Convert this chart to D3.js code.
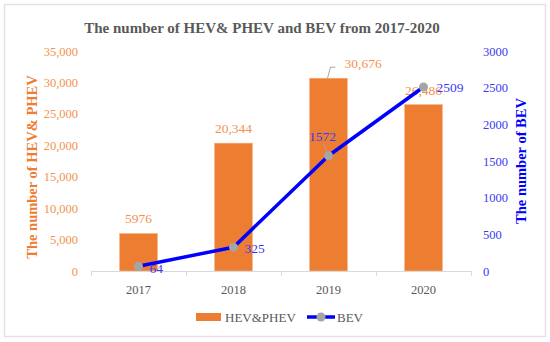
<!DOCTYPE html>
<html>
<head>
<meta charset="utf-8">
<script src="https://cdn.jsdelivr.net/npm/d3@7"></script>
<style>
  body { margin: 0; background: #fff; }
  svg text { font-family: "Liberation Serif", "DejaVu Serif", serif; }
</style>
</head>
<body>
<div class="svg-container"></div>
<script>
// data
const years = ["2017", "2018", "2019", "2020"];
const hevPhev = [5976, 20344, 30676, 26486];
const bev = [64, 325, 1572, 2509];
const leftTicks = [0, 5000, 10000, 15000, 20000, 25000, 30000, 35000];
const rightTicks = [0, 500, 1000, 1500, 2000, 2500, 3000];

const w = 550;
const h = 342;
const margin = {top: 51, right: 80, bottom: 71, left: 91};

const orange = "#ED7D31";
const orangeText = "#F4924F";
const blue = "#0000FF";
const blueText = "#3A3AF5";
const grey = "#595959";

const svg = d3.select(".svg-container")
  .append("svg")
  .attr("width", w)
  .attr("height", h);

// frame
svg.append("rect")
  .attr("x", 4.5).attr("y", 4.5)
  .attr("width", 541).attr("height", 332)
  .style("fill", "#fff").style("stroke", "#E3E3E3").style("stroke-width", 1.5);

const x = d3.scaleBand()
  .domain(years)
  .range([margin.left, w - margin.right + 1])
  .paddingInner(0.6)
  .paddingOuter(0.3);

const yL = d3.scaleLinear().domain([0, 35000]).range([h - margin.bottom, margin.top]);
const yR = d3.scaleLinear().domain([0, 3000]).range([h - margin.bottom, margin.top]);

const fmtL = d3.format(",");
const barFmt = d => d < 10000 ? String(d) : fmtL(d);

// title
svg.append("text")
  .attr("x", 262).attr("y", 33)
  .attr("text-anchor", "middle")
  .style("font-size", "15px").style("font-weight", "bold")
  .style("fill", grey)
  .text("The number of HEV& PHEV and BEV from 2017-2020");

// left axis labels
svg.append("g").selectAll("text").data(leftTicks).enter()
  .append("text")
  .attr("x", 78)
  .attr("y", d => yL(d) + 4.5)
  .attr("text-anchor", "end")
  .style("font-size", "12.5px")
  .style("fill", orangeText)
  .text(d => fmtL(d));

// right axis labels
svg.append("g").selectAll("text").data(rightTicks).enter()
  .append("text")
  .attr("x", 483)
  .attr("y", d => yR(d) + 4.5)
  .attr("text-anchor", "start")
  .style("font-size", "12.5px")
  .style("fill", blueText)
  .text(d => d);

// axis titles
svg.append("text")
  .attr("transform", `translate(37,${167}) rotate(-90)`)
  .attr("text-anchor", "middle")
  .style("font-size", "14.5px").style("font-weight", "bold")
  .style("fill", orange)
  .text("The number of HEV& PHEV");

svg.append("text")
  .attr("transform", `translate(526,${161}) rotate(-90)`)
  .attr("text-anchor", "middle")
  .style("font-size", "14.5px").style("font-weight", "bold")
  .style("fill", blue)
  .text("The number of BEV");

// bars
svg.append("g").selectAll("rect").data(hevPhev).enter()
  .append("rect")
  .attr("x", (d, i) => x(years[i]))
  .attr("y", d => yL(d))
  .attr("width", x.bandwidth())
  .attr("height", d => yL(0) - yL(d))
  .style("fill", orange)
  .style("stroke", "#F6B98F").style("stroke-width", 0.6);

// x axis line and ticks
const base = yL(0);
const step = x.step();
svg.append("line")
  .attr("x1", margin.left).attr("x2", w - margin.right + 1)
  .attr("y1", base + 0.5).attr("y2", base + 0.5)
  .style("stroke", "#D9D9D9");
const tickX = years.map((d, i) => margin.left + i * step).concat([w - margin.right + 1]);
svg.append("g").selectAll("line").data(tickX).enter()
  .append("line")
  .attr("x1", d => Math.round(d) + 0.5).attr("x2", d => Math.round(d) + 0.5)
  .attr("y1", base).attr("y2", base + 5)
  .style("stroke", "#D9D9D9");

// x labels
svg.append("g").selectAll("text").data(years).enter()
  .append("text")
  .attr("x", d => x(d) + x.bandwidth() / 2)
  .attr("y", 294)
  .attr("text-anchor", "middle")
  .style("font-size", "12.5px")
  .style("fill", grey)
  .text(d => d);

// bar labels
const barLabelOffset = [[0, -10], [0, -10], [24, -10], [0, -10]];
svg.append("g").selectAll("text").data(hevPhev).enter()
  .append("text")
  .attr("x", (d, i) => x(years[i]) + x.bandwidth() / 2 + barLabelOffset[i][0])
  .attr("y", (d, i) => yL(d) + barLabelOffset[i][1])
  .attr("text-anchor", (d, i) => i === 2 ? "start" : "middle")
  .attr("dx", (d, i) => i === 2 ? -8 : 0)
  .style("font-size", "13.5px")
  .style("fill", orangeText)
  .text(d => barFmt(d));

// leader line for 2019 bar label
const cx19 = x(years[2]) + x.bandwidth() / 2;
svg.append("path")
  .attr("d", d3.line()([[cx19 - 1, yL(hevPhev[2])], [cx19 + 2, yL(hevPhev[2]) - 11], [cx19 + 7, yL(hevPhev[2]) - 11]]))
  .style("fill", "none").style("stroke", "#A6A6A6").style("stroke-width", 1);

// BEV line
const pts = bev.map((d, i) => [x(years[i]) + x.bandwidth() / 2, yR(d)]);
svg.append("path")
  .attr("d", d3.line()(pts))
  .style("fill", "none").style("stroke", blue)
  .style("stroke-width", 3.5).style("stroke-linejoin", "round");

// leader line for 1572
svg.append("line")
  .attr("x1", pts[2][0]).attr("y1", pts[2][1])
  .attr("x2", pts[2][0] - 5).attr("y2", pts[2][1] - 12)
  .style("stroke", "#A6A6A6").style("stroke-width", 1);

svg.append("g").selectAll("circle").data(pts).enter()
  .append("circle")
  .attr("cx", d => d[0]).attr("cy", d => d[1])
  .attr("r", 4.5)
  .style("fill", "#A5A5A5");

// BEV labels
const bevLabelOffset = [[11, 2, "start"], [11, 1, "start"], [-6, -19, "middle"], [13, 0, "start"]];
svg.append("g").selectAll("text").data(bev).enter()
  .append("text")
  .attr("x", (d, i) => pts[i][0] + bevLabelOffset[i][0])
  .attr("y", (d, i) => pts[i][1] + bevLabelOffset[i][1] + 4.5)
  .attr("text-anchor", (d, i) => bevLabelOffset[i][2])
  .style("font-size", "13.5px")
  .style("fill", blueText)
  .text(d => d);

// legend
const lg = svg.append("g");
lg.append("rect")
  .attr("x", 196).attr("y", 313)
  .attr("width", 25).attr("height", 8)
  .style("fill", orange);
lg.append("text")
  .attr("x", 225).attr("y", 321.5)
  .style("font-size", "13px").style("fill", grey)
  .text("HEV&PHEV");
lg.append("line")
  .attr("x1", 307).attr("x2", 335).attr("y1", 317).attr("y2", 317)
  .style("stroke", blue).style("stroke-width", 3.5);
lg.append("circle")
  .attr("cx", 321).attr("cy", 317).attr("r", 4.5)
  .style("fill", "#A5A5A5");
lg.append("text")
  .attr("x", 337).attr("y", 321.5)
  .style("font-size", "13px").style("fill", grey)
  .text("BEV");
</script>
</body>
</html>
